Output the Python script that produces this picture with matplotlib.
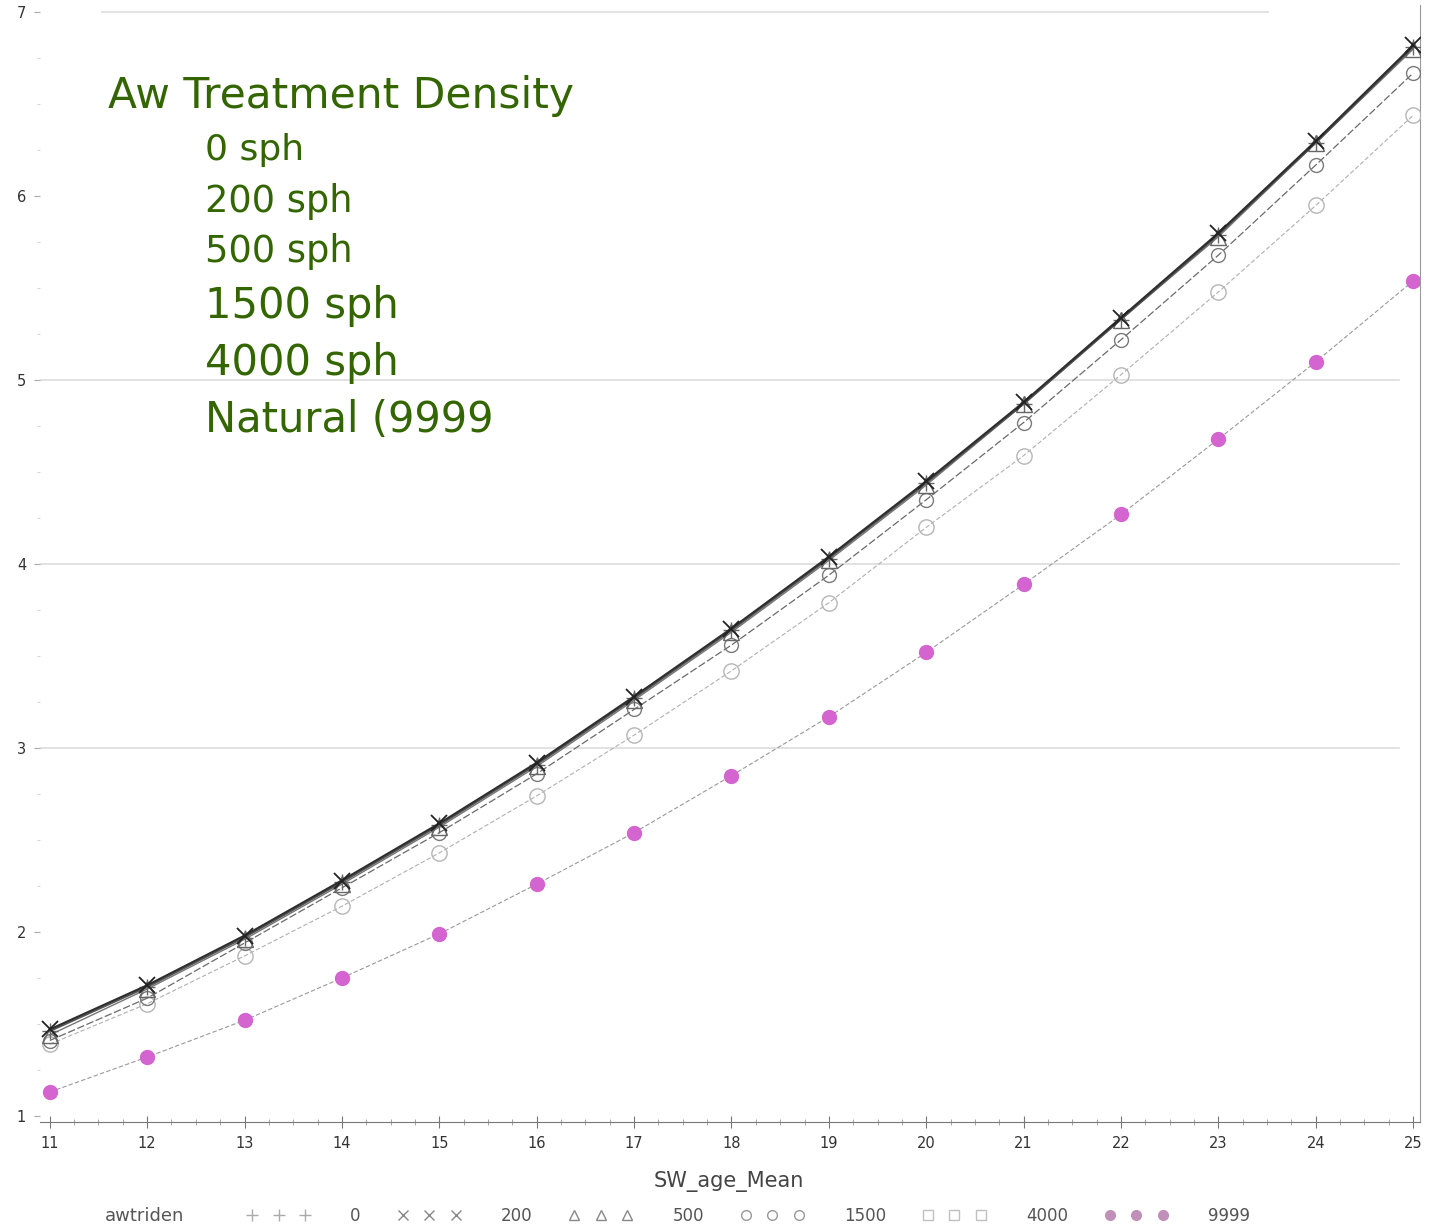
import matplotlib
matplotlib.use("Agg")
from matplotlib import pyplot as plt
from matplotlib.lines import Line2D
from matplotlib.ticker import MultipleLocator

# mean stand age (years) on the x axis
age = [11, 12, 13, 14, 15, 16, 17, 18, 19, 20, 21, 22, 23, 24, 25]

# predicted response by Aw treatment density (sph)
den_0 = [1.46, 1.70, 1.97, 2.27, 2.58, 2.91, 3.27, 3.64, 4.03, 4.44, 4.87, 5.33, 5.79, 6.29, 6.81]
den_200 = [1.47, 1.71, 1.98, 2.28, 2.59, 2.92, 3.28, 3.65, 4.04, 4.45, 4.88, 5.34, 5.80, 6.30, 6.82]
den_500 = [1.44, 1.69, 1.96, 2.26, 2.57, 2.90, 3.26, 3.63, 4.02, 4.43, 4.87, 5.33, 5.78, 6.29, 6.80]
den_1500 = [1.41, 1.64, 1.94, 2.24, 2.54, 2.86, 3.21, 3.56, 3.94, 4.35, 4.77, 5.22, 5.68, 6.17, 6.67]
den_4000 = [1.39, 1.61, 1.87, 2.14, 2.43, 2.74, 3.07, 3.42, 3.79, 4.20, 4.59, 5.03, 5.48, 5.95, 6.44]
den_9999 = [1.13, 1.32, 1.52, 1.75, 1.99, 2.26, 2.54, 2.85, 3.17, 3.52, 3.89, 4.27, 4.68, 5.10, 5.54]

legend_labels = ['0', '200', '500', '1500', '4000', '9999']
overlay_lines = ['0 sph', '200 sph', '500 sph', '1500 sph', '4000 sph', 'Natural (9999']

W, H = 1434, 1228
fig = plt.figure(figsize=(W / 100, H / 100), dpi=100)
ax = fig.add_axes([40 / W, 1 - 1122 / H, 1380 / W, 1117 / H])

ax.set_xlim(10.9, 25.07)
ax.set_ylim(0.967, 7.04)

# faint horizontal reference lines
for yv in [3, 4, 5]:
    ax.axhline(yv, xmax=0.985, color='#dddddd', lw=1.2, zorder=0)
ax.axhline(7, xmin=0.045, xmax=0.89, color='#e3e3e3', lw=1.5, zorder=0)

ax.plot(age, den_9999, color='#999999', lw=0.8, ls=(0, (4, 2)), marker='o', ms=10,
        mfc='#d464cf', mec='#d464cf', zorder=2)
ax.plot(age, den_4000, color='#b0b0b0', lw=0.8, ls=(0, (4, 2)), marker='o', ms=11,
        mfc='none', mec='#b5b5b5', mew=1.0, zorder=3)
ax.plot(age, den_1500, color='#6a6a6a', lw=0.9, ls=(0, (6, 2)), marker='o', ms=10,
        mfc='none', mec='#7a7a7a', mew=1.0, zorder=4)
ax.plot(age, den_500, color='#777777', lw=1.0, marker='^', ms=11,
        mfc='none', mec='#666666', mew=1.0, zorder=5)
ax.plot(age, den_0, color='#555555', lw=1.2, marker='+', ms=11,
        mec='#666666', mew=1.0, zorder=5)
ax.plot(age, den_200, color='#2e2e2e', lw=1.6, marker='x', ms=11,
        mec='#222222', mew=1.3, zorder=6)

for side in ['left', 'top']:
    ax.spines[side].set_visible(False)
ax.spines['right'].set_color('#999999')
ax.spines['bottom'].set_color('#777777')

ax.xaxis.set_major_locator(MultipleLocator(1))
ax.xaxis.set_minor_locator(MultipleLocator(0.25))
ax.yaxis.set_major_locator(MultipleLocator(1))
ax.yaxis.set_minor_locator(MultipleLocator(0.25))
ax.tick_params(axis='x', which='major', direction='inout', length=8, color='#777777',
               labelsize=10.5, labelcolor='#333333', pad=6)
ax.tick_params(axis='x', which='minor', direction='inout', length=5, color='#999999')
ax.tick_params(axis='y', which='major', direction='out', length=4, color='#aaaaaa',
               labelsize=10.5, labelcolor='#333333', pad=6)
ax.tick_params(axis='y', which='minor', direction='out', length=2, color='#cccccc')

fig.text(729 / W, 1 - 1182 / H, 'SW_age_Mean', ha='center', va='center',
         fontsize=15, color='#444444')

# legend row along the bottom
fig.text(105 / W, 1 - 1216 / H, 'awtriden', ha='left', va='center', fontsize=13, color='#555555')
handles = [
    Line2D([], [], ls='none', marker='+', ms=8, mec='#aaaaaa'),
    Line2D([], [], ls='none', marker='x', ms=7, mec='#888888'),
    Line2D([], [], ls='none', marker='^', ms=7, mfc='none', mec='#888888'),
    Line2D([], [], ls='none', marker='o', ms=7, mfc='none', mec='#999999'),
    Line2D([], [], ls='none', marker='s', ms=7, mfc='none', mec='#c0c0c0'),
    Line2D([], [], ls='none', marker='o', ms=7, mfc='#c090b8', mec='#c090b8'),
]
fig.legend(handles, legend_labels, loc='center left', bbox_to_anchor=(232 / W, 1 - 1216 / H),
           ncol=6, numpoints=3, frameon=False, fontsize=12, handlelength=3.8,
           columnspacing=2.2, handletextpad=2.4, labelcolor='#555555')

# overlaid green annotation block
green = '#336600'
fig.text(108 / W, 1 - 96 / H, 'Aw Treatment Density', ha='left', va='center',
         fontsize=30.5, color=green)
line_y = [150, 201, 252, 306, 363, 420]
line_fs = [26, 26.5, 26.5, 30, 30, 30]
for txt, yy, fs in zip(overlay_lines, line_y, line_fs):
    fig.text(205 / W, 1 - yy / H, txt, ha='left', va='center', fontsize=fs, color=green)

fig.savefig('out.png', dpi=100)
